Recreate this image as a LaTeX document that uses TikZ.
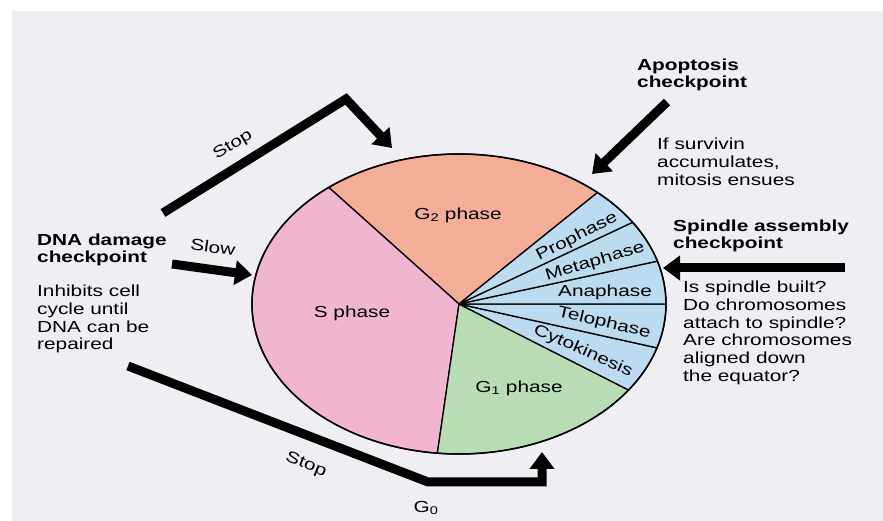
\documentclass[tikz,border=0pt]{standalone}
\usepackage{fontspec}
\setmainfont{Liberation Sans}[FakeStretch=1.3]
\usetikzlibrary{arrows.meta}
\definecolor{pagegray}{HTML}{EFEEF2}
\definecolor{sphase}{HTML}{F2B5CF}
\definecolor{gtwo}{HTML}{F3AE98}
\definecolor{gone}{HTML}{B8DDB4}
\definecolor{mphase}{HTML}{BADBF0}

\begin{document}
\begin{tikzpicture}[x=1pt, y=1pt,
  wedge/.style={draw=black, line width=1.3pt, line join=round},
  lbl/.style={inner sep=0pt, font=\fontsize{16}{18}\selectfont},
  head/.style={inner sep=0pt, anchor=north west, align=left, font=\bfseries\fontsize{16}{17}\selectfont},
  note/.style={inner sep=0pt, anchor=north west, align=left, font=\fontsize{16}{17.7}\selectfont},
  fat/.style={line width=9pt, -{Triangle[length=17pt, width=24pt]}}]
\useasboundingbox (0,0) rectangle (883,521);
\fill[pagegray] (12,0) rectangle (883,510);

% pie of the cell cycle
\coordinate (c) at (459,217);
\filldraw[wedge, fill=gtwo] (c) -- ++(48:207 and 150) arc[start angle=48, end angle=129, x radius=207, y radius=150] -- cycle;
\filldraw[wedge, fill=sphase] (c) -- ++(129:207 and 150) arc[start angle=129, end angle=264, x radius=207, y radius=150] -- cycle;
\filldraw[wedge, fill=gone] (c) -- ++(264:207 and 150) arc[start angle=264, end angle=325, x radius=207, y radius=150] -- cycle;
\filldraw[wedge, fill=mphase] (c) -- ++(-35:207 and 150) arc[start angle=-35, end angle=-17, x radius=207, y radius=150] -- cycle;
\filldraw[wedge, fill=mphase] (c) -- ++(-17:207 and 150) arc[start angle=-17, end angle=0, x radius=207, y radius=150] -- cycle;
\filldraw[wedge, fill=mphase] (c) -- ++(0:207 and 150) arc[start angle=0, end angle=16.6, x radius=207, y radius=150] -- cycle;
\filldraw[wedge, fill=mphase] (c) -- ++(16.6:207 and 150) arc[start angle=16.6, end angle=33, x radius=207, y radius=150] -- cycle;
\filldraw[wedge, fill=mphase] (c) -- ++(33:207 and 150) arc[start angle=33, end angle=48, x radius=207, y radius=150] -- cycle;
\draw[line width=1.5pt] (c) ellipse[x radius=207, y radius=150];

% phase names
\node[lbl] (g2) at (458,306) {G\textsubscript{2} phase};
\node[lbl] (s) at (352,208) {S phase};
\node[lbl] (g1) at (519,133) {G\textsubscript{1} phase};
\node[lbl, rotate=27] (pro) at (577,284) {Prophase};
\node[lbl, rotate=17] (meta) at (595,259) {Metaphase};
\node[lbl] (ana) at (605,229) {Anaphase};
\node[lbl, rotate=-13] (telo) at (604,198) {Telophase};
\node[lbl, rotate=-24] (cyto) at (583,170) {Cytokinesis};

% checkpoints
\node[head] (apo) at (637,462) {Apoptosis\\checkpoint};
\node[note] (apotxt) at (657,383) {If survivin\\accumulates,\\mitosis ensues};
\node[head] (spin) at (673,301) {Spindle assembly\\checkpoint};
\node[note] (spintxt) at (683,240) {Is spindle built?\\Do chromosomes\\attach to spindle?\\Are chromosomes\\aligned down\\the equator?};
\node[head] (dna) at (37,287) {DNA damage\\checkpoint};
\node[note] (dnatxt) at (37,236) {Inhibits cell\\cycle until\\DNA can be\\repaired};

% arrows
\coordinate (stopa) at (163,308);
\coordinate (stopb) at (346,422);
\coordinate (stopc) at (392,373);
\coordinate (slowa) at (172,257);
\coordinate (slowb) at (252,246);
\coordinate (goa) at (128,155);
\coordinate (gob) at (428,39);
\coordinate (goc) at (542,39);
\coordinate (god) at (542,69);
\coordinate (apoa) at (667,419);
\coordinate (apob) at (592,347);
\coordinate (spina) at (845,253);
\coordinate (spinb) at (663,253);
\draw[fat] (stopa) -- (stopb) -- (stopc);
\draw[fat] (slowa) -- (slowb);
\draw[fat] (goa) -- (gob) -- (goc) -- (god);
\draw[fat] (apoa) -- (apob);
\draw[fat] (spina) -- (spinb);

\node[lbl, rotate=32] (stop1) at (233,376) {Stop};
\node[lbl, rotate=-8] (slow) at (213,274) {Slow};
\node[lbl, rotate=-22] (stop2) at (306,56) {Stop};
\node[lbl] (g0) at (426,13) {G\textsubscript{0}};
\end{tikzpicture}
\end{document}
